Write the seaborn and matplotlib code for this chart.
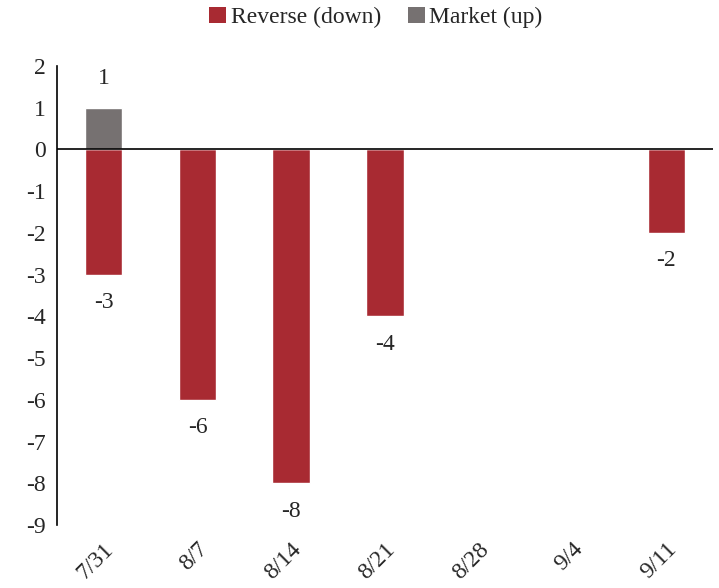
import matplotlib
matplotlib.use("Agg")
import matplotlib.pyplot as plt
import matplotlib.transforms as mtransforms
import seaborn as sns
import pandas as pd
from matplotlib.patches import Patch

weeks = ["7/31", "8/7", "8/14", "8/21", "8/28", "9/4", "9/11"]
reverse_down = [-3, -6, -8, -4, 0, 0, -2]
market_up = [1, 0, 0, 0, 0, 0, 0]
series_names = ["Reverse (down)", "Market (up)"]
colors = ["#A82A32", "#767171"]
y_ticks = [2, 1, 0, -1, -2, -3, -4, -5, -6, -7, -8, -9]

sns.set_theme(style="white")
plt.rcParams["font.family"] = ["Liberation Serif", "DejaVu Serif"]

FS = 17

df = pd.DataFrame({
    "week": weeks * 2,
    "value": reverse_down + market_up,
    "series": [series_names[0]] * len(weeks) + [series_names[1]] * len(weeks),
})

fig = plt.figure(figsize=(7.19, 5.88), dpi=100)
ax = fig.add_axes([0.079, 0.107, 0.913, 0.781])

sns.barplot(data=df, x="week", y="value", hue="series", order=weeks,
            hue_order=series_names, palette=colors, dodge=False, width=0.4,
            saturation=1, ax=ax, legend=False)

ax.set_ylim(-9, 2)
ax.set_xlim(-0.5, len(weeks) - 0.5)
ax.set_yticks(y_ticks)
ax.set_yticklabels([str(t) for t in y_ticks], fontsize=FS)
ax.set_xlabel("")
ax.set_ylabel("")
ax.tick_params(axis="both", length=0, pad=8)
ax.set_xticks(range(len(weeks)))
ax.set_xticklabels(weeks, fontsize=FS, rotation=45, ha="right",
                   rotation_mode="anchor", va="center")
for lbl in ax.get_xticklabels():
    lbl.set_transform(lbl.get_transform() + mtransforms.ScaledTranslation(0.07, -0.10, fig.dpi_scale_trans))

for s in ["top", "right", "bottom"]:
    ax.spines[s].set_visible(False)
ax.spines["left"].set_color("black")
ax.spines["left"].set_linewidth(1.2)
ax.axhline(0, color="black", linewidth=1.2)

# value labels
for i, v in enumerate(reverse_down):
    if v != 0:
        ax.annotate(str(v), (i, v), xytext=(0, -20), textcoords="offset points",
                    ha="center", va="center", fontsize=FS)
for i, v in enumerate(market_up):
    if v != 0:
        ax.annotate(str(v), (i, v), xytext=(0, 21), textcoords="offset points",
                    ha="center", va="center", fontsize=FS)

handles = [Patch(facecolor=c, edgecolor="none") for c in colors]
fig.legend(handles, series_names, loc="center", bbox_to_anchor=(0.523, 0.97),
           ncol=2, frameon=False, fontsize=FS, handlelength=0.7, handleheight=0.7,
           handletextpad=0.2, columnspacing=1.15)

fig.savefig("out.png", dpi=100)
